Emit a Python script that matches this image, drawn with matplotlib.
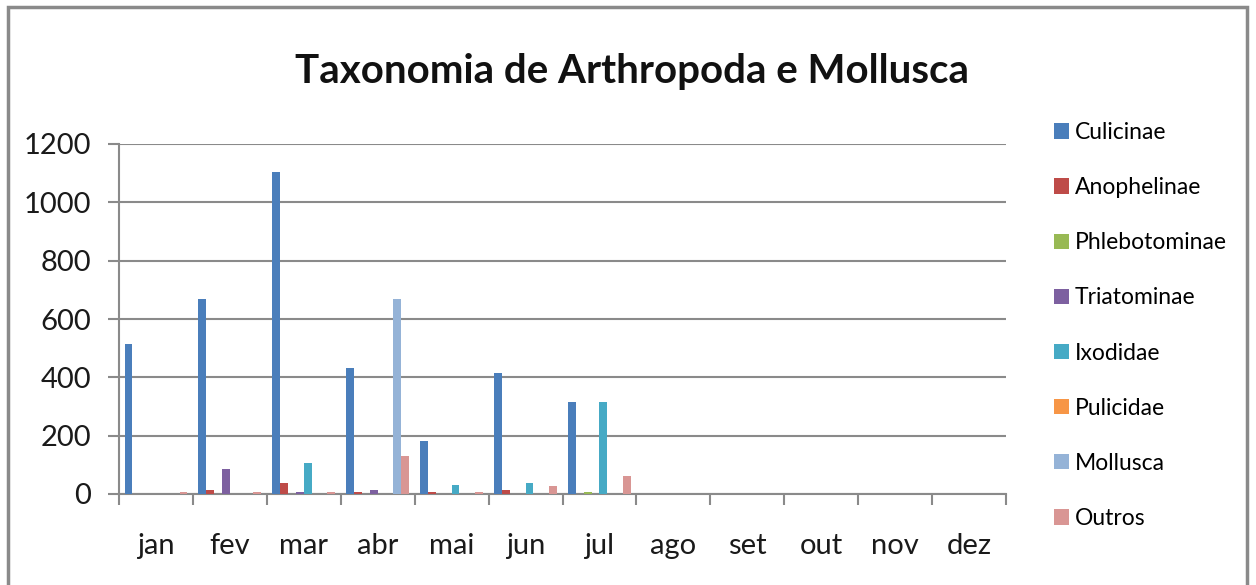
import numpy as np
import matplotlib.pyplot as plt
from matplotlib.patches import Rectangle

meses = ["jan", "fev", "mar", "abr", "mai", "jun", "jul", "ago", "set", "out", "nov", "dez"]
series = ["Culicinae", "Anophelinae", "Phlebotominae", "Triatominae",
          "Ixodidae", "Pulicidae", "Mollusca", "Outros"]

culicinae     = [513, 670, 1103, 433, 183, 414, 317, 0, 0, 0, 0, 0]
anophelinae   = [0, 14, 38, 7, 6, 14, 0, 0, 0, 0, 0, 0]
phlebotominae = [0, 0, 0, 0, 0, 0, 7, 0, 0, 0, 0, 0]
triatominae   = [0, 86, 8, 14, 0, 0, 0, 0, 0, 0, 0, 0]
ixodidae      = [0, 0, 105, 0, 31, 38, 317, 0, 0, 0, 0, 0]
pulicidae     = [0, 0, 0, 0, 0, 0, 0, 0, 0, 0, 0, 0]
mollusca      = [0, 0, 0, 670, 0, 0, 0, 0, 0, 0, 0, 0]
outros        = [8, 8, 8, 129, 7, 26, 62, 0, 0, 0, 0, 0]

valores = [culicinae, anophelinae, phlebotominae, triatominae,
           ixodidae, pulicidae, mollusca, outros]
cores = ["#4a7ebb", "#be4b48", "#98b954", "#7d60a0",
         "#46aac5", "#f79646", "#95b3d7", "#d99694"]

plt.rcParams['font.family'] = ["Lato", "DejaVu Sans"]
cinza = "#8a8a8a"

fig = plt.figure(figsize=(12.56, 5.85), dpi=100)
ax = fig.add_axes([119/1256, 91/585, 887/1256, 350/585])

x = np.arange(len(meses))
w = 0.85/8
for i in range(len(series)):
    ax.bar(x + (i-3.5)*w, valores[i], width=w, color=cores[i],
           label=series[i], zorder=3)

ax.set_xlim(-0.5, 11.5)
ax.set_ylim(0, 1200)
ax.set_yticks(range(0, 1201, 200))
ax.grid(axis='y', color=cinza, lw=1.5, zorder=0)
for s in ['top', 'right']:
    ax.spines[s].set_visible(False)
for s in ['left', 'bottom']:
    ax.spines[s].set_color(cinza)
    ax.spines[s].set_linewidth(1.5)

ax.set_xticks(x)
ax.set_xticklabels(meses)
ax.set_xticks(np.arange(-0.5, 12, 1), minor=True)
ax.tick_params(axis='x', which='major', length=0, pad=28, labelsize=21, labelcolor='#1a1a1a')
ax.tick_params(axis='x', which='minor', length=8, width=1.5, color=cinza)
ax.tick_params(axis='y', length=8, width=1.5, color=cinza, pad=12, labelsize=21, labelcolor='#1a1a1a')

fig.text(0.503, 0.878, "Taxonomia de Arthropoda e Mollusca", ha='center', va='center',
         fontsize=29, fontweight='bold', color='#111111')

fig.legend(loc='upper left', bbox_to_anchor=(1054/1256, 1-122/585), frameon=False,
           fontsize=16.5, handlelength=0.65, handleheight=0.65, handletextpad=0.25,
           labelspacing=1.49, borderaxespad=0, borderpad=0)

fig.patches.append(Rectangle((8/1256, -0.05), 1239/1256, 1.05 - 7/585,
                             transform=fig.transFigure, fill=False,
                             edgecolor=cinza, lw=2.5))

fig.savefig("out.png", dpi=100)
